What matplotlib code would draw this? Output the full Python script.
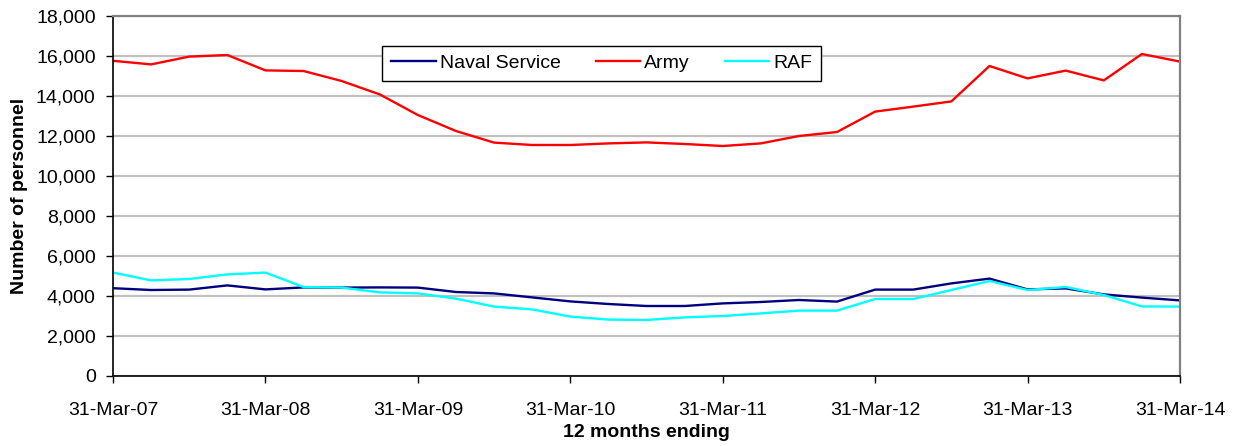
import matplotlib.pyplot as plt

plt.rcParams['font.family'] = ['Liberation Sans', 'DejaVu Sans']

quarters = ['31-Mar-07', '30-Jun-07', '30-Sep-07', '31-Dec-07',
            '31-Mar-08', '30-Jun-08', '30-Sep-08', '31-Dec-08',
            '31-Mar-09', '30-Jun-09', '30-Sep-09', '31-Dec-09',
            '31-Mar-10', '30-Jun-10', '30-Sep-10', '31-Dec-10',
            '31-Mar-11', '30-Jun-11', '30-Sep-11', '31-Dec-11',
            '31-Mar-12', '30-Jun-12', '30-Sep-12', '31-Dec-12',
            '31-Mar-13', '30-Jun-13', '30-Sep-13', '31-Dec-13',
            '31-Mar-14']

naval = [4390, 4300, 4320, 4530, 4330, 4430, 4420, 4430, 4420, 4200, 4130,
         3930, 3730, 3600, 3500, 3500, 3630, 3700, 3800, 3720, 4320,
         4320, 4630, 4870, 4330, 4380, 4080, 3920, 3780]
army = [15760, 15580, 15970, 16050, 15280, 15250, 14750, 14080, 13050, 12250, 11670,
        11550, 11550, 11630, 11680, 11600, 11500, 11630, 12000, 12200, 13220,
        13470, 13730, 15500, 14880, 15270, 14780, 16100, 15720]
raf = [5170, 4780, 4850, 5080, 5170, 4450, 4420, 4180, 4130, 3870, 3470,
       3330, 2970, 2820, 2800, 2930, 3000, 3130, 3270, 3270, 3850,
       3850, 4300, 4750, 4300, 4450, 4050, 3480, 3470]

x = list(range(len(quarters)))

fig = plt.figure(figsize=(12.36, 4.46), dpi=100)
ax = fig.add_axes([113 / 1236, 70 / 446, 1067 / 1236, 360 / 446])

ax.plot(x, naval, color='#000080', lw=1.7, label='Naval Service')
ax.plot(x, army, color='#FF0000', lw=1.7, label='Army')
ax.plot(x, raf, color='#00FFFF', lw=1.7, label='RAF')

ax.set_xlim(0, len(quarters) - 1)
ax.set_ylim(0, 18000)
ax.set_yticks(range(0, 18001, 2000))
ax.set_yticklabels([f'{v:,}' for v in range(0, 18001, 2000)])
ax.set_xticks(x[::4])
ax.set_xticklabels(quarters[::4])

ax.grid(axis='y', color='#C0C0C0', lw=1.6)
ax.set_axisbelow(True)
for side in ['top', 'right']:
    ax.spines[side].set_color('#808080')
    ax.spines[side].set_linewidth(1.6)
for side in ['left', 'bottom']:
    ax.spines[side].set_color('black')
    ax.spines[side].set_linewidth(1.2)

ax.tick_params(axis='both', labelsize=14, length=5, width=1, color='black')
ax.tick_params(axis='x', pad=14)
ax.tick_params(axis='y', pad=7.5)

ax.set_xlabel('12 months ending', fontsize=14, fontweight='bold', labelpad=3)
ax.set_ylabel('Number of personnel', fontsize=14, fontweight='bold', labelpad=6)

leg = ax.legend(loc='upper center', bbox_to_anchor=(0.458, 0.945), ncol=3, fontsize=14,
                frameon=True, fancybox=False, edgecolor='black', framealpha=1,
                handlelength=2.3, columnspacing=1.8, handletextpad=0.2,
                borderpad=0.45)
leg.get_frame().set_linewidth(1)

fig.savefig('out.png', dpi=100)
